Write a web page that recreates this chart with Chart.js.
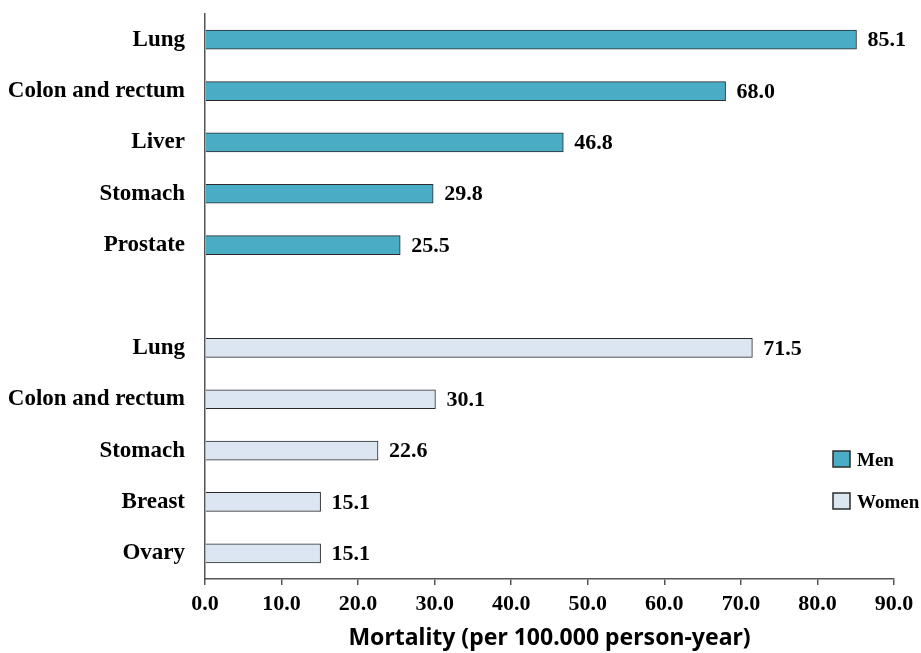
<!DOCTYPE html>
<html>
<head>
<meta charset="utf-8">
<script src="https://cdn.jsdelivr.net/npm/chart.js@4.4.0/dist/chart.umd.min.js"></script>
<style>
  html, body { margin: 0; padding: 0; background: #ffffff; }
  #wrap { width: 921px; height: 653px; position: relative; }
</style>
</head>
<body>
<div id="wrap"><canvas id="mortalityChart"></canvas></div>
<script>
// categories: men first, an empty gap slot, then women
const categories = ['Lung', 'Colon and rectum', 'Liver', 'Stomach', 'Prostate', '',
  'Lung', 'Colon and rectum', 'Stomach', 'Breast', 'Ovary'];
const menValues = [85.1, 68.0, 46.8, 29.8, 25.5, null, null, null, null, null, null];
const womenValues = [null, null, null, null, null, null, 71.5, 30.1, 22.6, 15.1, 15.1];
const seriesNames = ['Men', 'Women'];
const xTicks = [0, 10, 20, 30, 40, 50, 60, 70, 80, 90];

const colors = {
  men: '#4BACC6',
  women: '#DCE6F2',
  border: '#2b2b2b',
  axis: '#555555',
  text: '#000000'
};
const serif = "'Liberation Serif', 'Times New Roman', serif";

// value labels at the end of each bar
const valueLabels = {
  id: 'valueLabels',
  afterDatasetsDraw(chart) {
    const ctx = chart.ctx;
    ctx.save();
    ctx.font = 'bold 22px ' + serif;
    ctx.fillStyle = colors.text;
    ctx.textAlign = 'left';
    ctx.textBaseline = 'middle';
    chart.data.datasets.forEach((ds, i) => {
      chart.getDatasetMeta(i).data.forEach((bar, j) => {
        const v = ds.data[j];
        if (v === null) return;
        ctx.fillText(v.toFixed(1), bar.x + 11, bar.y + 1);
      });
    });
    ctx.restore();
  }
};

// legend box in the lower right, like the original
const sideLegend = {
  id: 'sideLegend',
  afterDraw(chart) {
    const ctx = chart.ctx;
    ctx.save();
    ctx.font = 'bold 19px ' + serif;
    ctx.textBaseline = 'middle';
    chart.data.datasets.forEach((ds, i) => {
      const y = 451 + i * 42;
      const x = 833;
      ctx.fillStyle = ds.backgroundColor;
      ctx.fillRect(x, y, 17, 16);
      ctx.lineWidth = 1.5;
      ctx.strokeStyle = colors.border;
      ctx.strokeRect(x, y, 17, 16);
      ctx.fillStyle = colors.text;
      ctx.fillText(ds.label, x + 24, y + 10);
    });
    ctx.restore();
  }
};

new Chart(document.getElementById('mortalityChart'), {
  type: 'bar',
  data: {
    labels: categories,
    datasets: [
      {
        label: seriesNames[0],
        data: menValues,
        backgroundColor: colors.men,
        borderColor: colors.border,
        borderWidth: 1
      },
      {
        label: seriesNames[1],
        data: womenValues,
        backgroundColor: colors.women,
        borderColor: colors.border,
        borderWidth: 1
      }
    ]
  },
  options: {
    indexAxis: 'y',
    responsive: true,
    maintainAspectRatio: false,
    animation: false,
    datasets: {
      bar: {
        grouped: false,
        barThickness: 19
      }
    },
    layout: {
      padding: { top: 14, right: 27, bottom: 1, left: 0 }
    },
    scales: {
      x: {
        min: 0,
        max: 90,
        afterBuildTicks(scale) {
          scale.ticks = xTicks.map(v => ({ value: v }));
        },
        grid: {
          drawOnChartArea: false,
          drawTicks: true,
          tickLength: 6,
          color: colors.axis,
          lineWidth: 1.5
        },
        border: { display: true, color: colors.axis, width: 1.5 },
        ticks: {
          color: colors.text,
          padding: 6,
          font: { family: serif, size: 22, weight: 'bold' },
          callback: function(value) {
            return Number(value).toFixed(1);
          }
        },
        title: {
          display: true,
          text: 'Mortality (per 100.000 person-year)',
          color: colors.text,
          font: { family: "'Noto Sans', 'Open Sans', sans-serif", size: 23, weight: 'bold' },
          padding: { top: 1, bottom: 0 }
        }
      },
      y: {
        offset: true,
        grid: { display: false, drawTicks: false },
        border: { display: true, color: colors.axis, width: 1.5 },
        afterFit(scale) {
          // fixed gutter for the labels, no extra top/bottom padding
          scale.width = 205;
          scale.paddingTop = 0;
          scale.paddingBottom = 0;
        },
        ticks: {
          color: colors.text,
          padding: 20,
          autoSkip: false,
          font: { family: serif, size: 23, weight: 'bold' }
        }
      }
    },
    plugins: {
      legend: { display: false },
      tooltip: { enabled: false }
    }
  },
  plugins: [valueLabels, sideLegend]
});
</script>
</body>
</html>
